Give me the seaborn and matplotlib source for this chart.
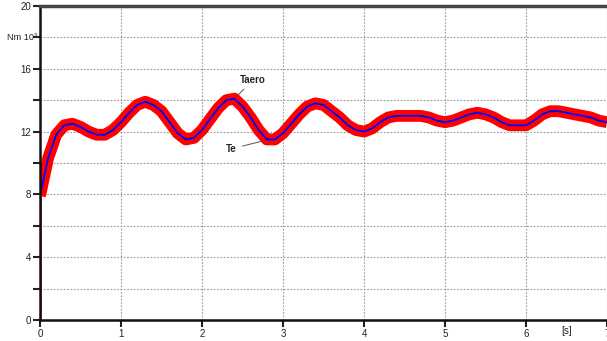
import numpy as np
import pandas as pd
import matplotlib
matplotlib.use("Agg")
import matplotlib.pyplot as plt
import matplotlib.transforms as mtransforms
import seaborn as sns

# time axis [s]
t = [round(0.1 * i, 1) for i in range(71)]
# Taero (blue) values, Nm 10^3
taero = [7.9, 10.3, 11.8, 12.4, 12.5, 12.3, 12.0, 11.8, 11.8, 12.1,
         12.6, 13.2, 13.7, 13.9, 13.7, 13.3, 12.6, 11.9, 11.5, 11.6,
         12.1, 12.8, 13.5, 14.0, 14.1, 13.6, 12.9, 12.1, 11.5, 11.5,
         11.9, 12.5, 13.1, 13.6, 13.8, 13.7, 13.3, 12.9, 12.4, 12.1,
         12.0, 12.2, 12.6, 12.9, 13.0, 13.0, 13.0, 13.0, 12.9, 12.7,
         12.6, 12.7, 12.9, 13.1, 13.2, 13.1, 12.9, 12.6, 12.4, 12.4,
         12.4, 12.7, 13.1, 13.3, 13.3, 13.2, 13.1, 13.0, 12.9, 12.7,
         12.6]
# Te (red) values
te = list(taero)
# initial steps at t=0
taero_start = [13.2, 7.9]
te_start = [0.0, 7.9]

yticks = [0, 2, 4, 6, 8, 10, 12, 14, 16, 18, 20]
ylabels = ["0", "", "4", "", "8", "", "12", "", "16", "", "20"]
unit_label = "Nm 10³"
xticks = [0, 1, 2, 3, 4, 5, 6, 7]
xlabels = ["0", "1", "2", "3", "4", "5", "6", "7"]

sns.set_style("white")
plt.rcParams['font.family'] = ['Liberation Sans', 'DejaVu Sans']

fig = plt.figure(figsize=(6.07, 3.41), dpi=100)
ax = fig.add_axes([40/607, 21/341, 1 - 40/607, (320 - 6)/341])

df = pd.DataFrame({"t": t, "Te": te, "Taero": taero})
sns.lineplot(x=[0, 0], y=te_start, ax=ax, color="#ff0000", lw=1.8, estimator=None, sort=False)
sns.lineplot(data=df, x="t", y="Te", ax=ax, color="#ff0000", lw=8.5, estimator=None, sort=False,
             solid_capstyle="butt", solid_joinstyle="round")
sns.lineplot(x=[0, 0], y=taero_start, ax=ax, color="#0000ff", lw=1.5, estimator=None, sort=False)
sns.lineplot(data=df, x="t", y="Taero", ax=ax, color="#0000ff", lw=1.3, estimator=None, sort=False,
             solid_joinstyle="round")

ax.set_xlim(0, 7)
ax.set_ylim(0, 20)
ax.set_xticks(xticks)
ax.set_xticklabels(xlabels)
ax.set_yticks(yticks)
ax.set_yticklabels(ylabels)
ax.set_xlabel("")
ax.set_ylabel("")
ax.tick_params(axis="both", labelsize=7, length=5, width=1.5, color="#222222",
               labelcolor="#222222", direction="out", pad=1.5, left=True, bottom=True)
ax.grid(True, linestyle=(0, (1.5, 1.5)), color="#999999", lw=0.8)
ax.set_axisbelow(True)

for side in ["left", "bottom"]:
    ax.spines[side].set_color("#111111")
    ax.spines[side].set_linewidth(1.8)
ax.spines["top"].set_color("#444444")
ax.spines["top"].set_linewidth(2.5)
ax.spines["right"].set_visible(False)

trans = mtransforms.blended_transform_factory(ax.transAxes, ax.transData)
ax.text(-3/567, 18, unit_label, transform=trans, ha="right", va="center", fontsize=6.6,
        color="#222222", clip_on=False)

ax.text(6.5, -0.4, "[s]", transform=ax.transData, ha="center", va="top", fontsize=7, color="#222222",
        clip_on=False)

ax.annotate("Taero", xy=(2.44, 14.3), xytext=(2.63, 15.3), fontsize=7, fontweight="bold",
            ha="center", va="center", zorder=10,
            arrowprops=dict(arrowstyle="-", color="#555555", lw=0.7, shrinkA=1, shrinkB=0))
ax.annotate("Te", xy=(2.75, 11.4), xytext=(2.36, 10.9), fontsize=7, fontweight="bold",
            ha="center", va="center", zorder=10,
            arrowprops=dict(arrowstyle="-", color="#555555", lw=0.7, shrinkA=2, shrinkB=0))

fig.savefig("out.png", dpi=100)
